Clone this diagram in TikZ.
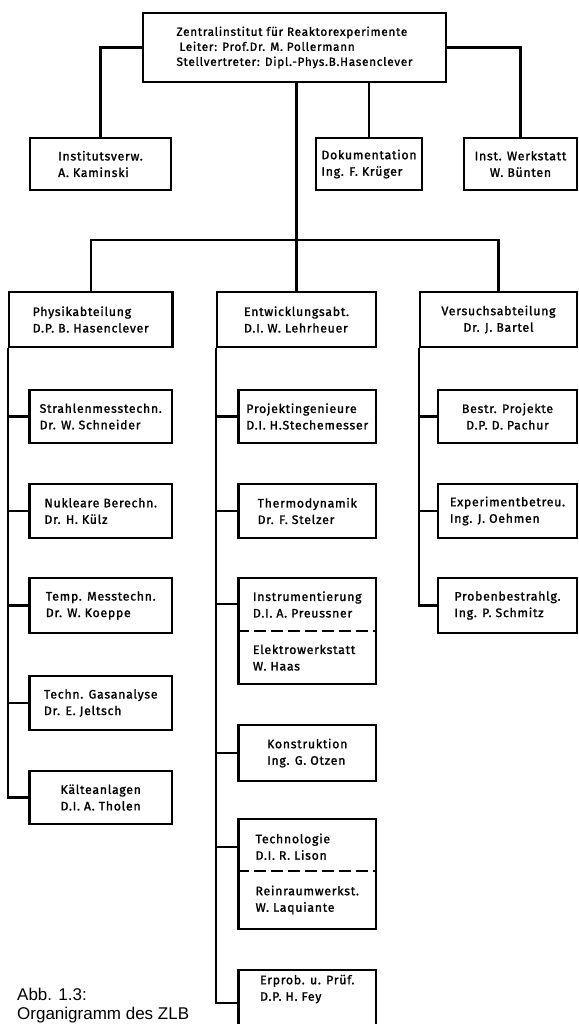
\documentclass[tikz,border=0pt]{standalone}
\usepackage{fontspec}
\newfontfamily\bxfont{Fira Sans}[LetterSpace=6,FakeBold=1.4]
\newfontfamily\capfont{Liberation Sans}
\begin{document}
\begin{tikzpicture}[x=1pt,y=-1pt,
  bx/.style={draw, line width=2.2pt, inner sep=0pt, align=left,
    font=\bxfont\fontsize{12.3}{16.5}\selectfont},
  ln/.style={line width=2.2pt},
  dsh/.style={line width=2.2pt, dash pattern=on 12pt off 5pt},
  capt/.style={anchor=base west, inner sep=0pt, font=\capfont\fontsize{17}{20}\selectfont}]
\useasboundingbox (0,0) rectangle (578,1024);

% top level
\node[bx, minimum width=303pt, minimum height=69pt,
  font=\bxfont\fontsize{11.8}{15}\selectfont] (top) at (294.5,47.5)
  {Zentralinstitut für Reaktorexperimente\\\hspace*{3pt}Leiter: Prof.Dr. M. Pollermann\\Stellvertreter: Dipl.-Phys.B.Hasenclever};
\node[bx, minimum width=141pt, minimum height=52pt] (inst) at (100.5,164) {Institutsverw.\\A. Kaminski};
\node[bx, minimum width=106pt, minimum height=52pt] (doku) at (369,164) {Dokumentation\\Ing. F. Krüger};
\node[bx, align=center, minimum width=113pt, minimum height=52pt] (werk) at (520.5,164) {Inst. Werkstatt\\W. Bünten};

% departments
\node[bx, minimum width=163.5pt, minimum height=55pt] (phys) at (90.75,319.5) {Physikabteilung\\D.P. B. Hasenclever};
\node[bx, minimum width=159pt, minimum height=55pt] (entw) at (296.5,319.5) {Entwicklungsabt.\\D.I. W. Lehrheuer};
\node[bx, align=center, minimum width=157pt, minimum height=55pt] (vers) at (498.5,319.5) {Versuchsabteilung\\Dr. J. Bartel};

% Physik column
\node[bx, minimum width=142.5pt, minimum height=53pt] (strahl) at (100.75,416.5) {Strahlenmesstechn.\\Dr. W. Schneider};
\node[bx, minimum width=142.5pt, minimum height=54pt] (nukl) at (100.75,511) {Nukleare Berechn.\\Dr. H. Külz};
\node[bx, minimum width=142.5pt, minimum height=55pt] (temp) at (100.75,605.5) {Temp. Messtechn.\\Dr. W. Koeppe};
\node[bx, minimum width=142.5pt, minimum height=54pt] (gas) at (100.75,703) {Techn. Gasanalyse\\Dr. E. Jeltsch};
\node[bx, minimum width=142.5pt, minimum height=53pt] (kaelte) at (100.75,797.5) {Kälteanlagen\\D.I. A. Tholen};

% Entwicklung column
\node[bx, minimum width=137.5pt, minimum height=53pt] (projekt) at (307.25,416.5) {Projektingenieure\\D.I. H.Stechemesser};
\node[bx, minimum width=137.5pt, minimum height=54pt] (thermo) at (307.25,511) {Thermodynamik\\Dr. F. Stelzer};
\node[bx, minimum width=137.5pt, minimum height=106pt] (instr) at (307.25,631) {Instrumentierung\\D.I. A. Preussner\\[20pt]Elektrowerkstatt\\W. Haas};
\node[bx, minimum width=137.5pt, minimum height=56pt] (konstr) at (307.25,753) {Konstruktion\\Ing. G. Otzen};
\node[bx, minimum width=137.5pt, minimum height=110pt] (techno) at (307.25,874) {Technologie\\D.I. R. Lison\\[19pt]Reinraumwerkst.\\W. Laquiante};
\node[bx, minimum width=137.5pt, minimum height=66pt] (erprob) at (307.25,1003) {Erprob. u. Prüf.\\D.P. H. Fey\\[14pt]};

% Versuch column
\node[bx, align=center, minimum width=139pt, minimum height=53pt] (bestr) at (507.5,416.5) {Bestr. Projekte\\D.P. D. Pachur};
\node[bx, minimum width=139pt, minimum height=54pt] (exper) at (507.5,511) {Experimentbetreu.\\Ing. J. Oehmen};
\node[bx, minimum width=139pt, minimum height=55pt] (proben) at (507.5,605.5) {Probenbestrahlg.\\Ing. P. Schmitz};

% dashed splits
\draw[dsh] ([yshift=-54pt]instr.north west) -- ([yshift=-54pt]instr.north east);
\draw[dsh] ([yshift=-53pt]techno.north west) -- ([yshift=-53pt]techno.north east);

% connectors top
\draw[ln] (top.west) -| (inst.north);
\draw[ln] (top.east) -| (werk.north);
\draw[ln] (top.south -| doku.north) -- (doku.north);
\draw[ln] (top.south -| entw.north) -- (entw.north);
\coordinate (bar) at (296.5,240);
\draw[ln] (phys.north) |- (bar) -| (vers.north);

% Physik tree
\draw[ln] (phys.south west) |- (kaelte.west);
\foreach \n in {strahl,nukl,temp,gas}
  \draw[ln] (phys.south west |- \n.west) -- (\n.west);

% Entwicklung tree
\coordinate (instrc) at ([yshift=-27pt]instr.north west);
\coordinate (technoc) at ([yshift=-29pt]techno.north west);
\draw[ln] (entw.south west) |- (erprob.west);
\foreach \n in {projekt,thermo,konstr,instrc,technoc}
  \draw[ln] (entw.south west |- \n) -- (\n);

% Versuch tree
\draw[ln] (vers.south west) |- (proben.west);
\foreach \n in {bestr,exper}
  \draw[ln] (vers.south west |- \n.west) -- (\n.west);

% caption
\node[capt] (cap1) at (17,1000) {Abb. 1.3:};
\node[capt] (cap2) at (17,1019) {Organigramm des ZLB};
\end{tikzpicture}
\end{document}
